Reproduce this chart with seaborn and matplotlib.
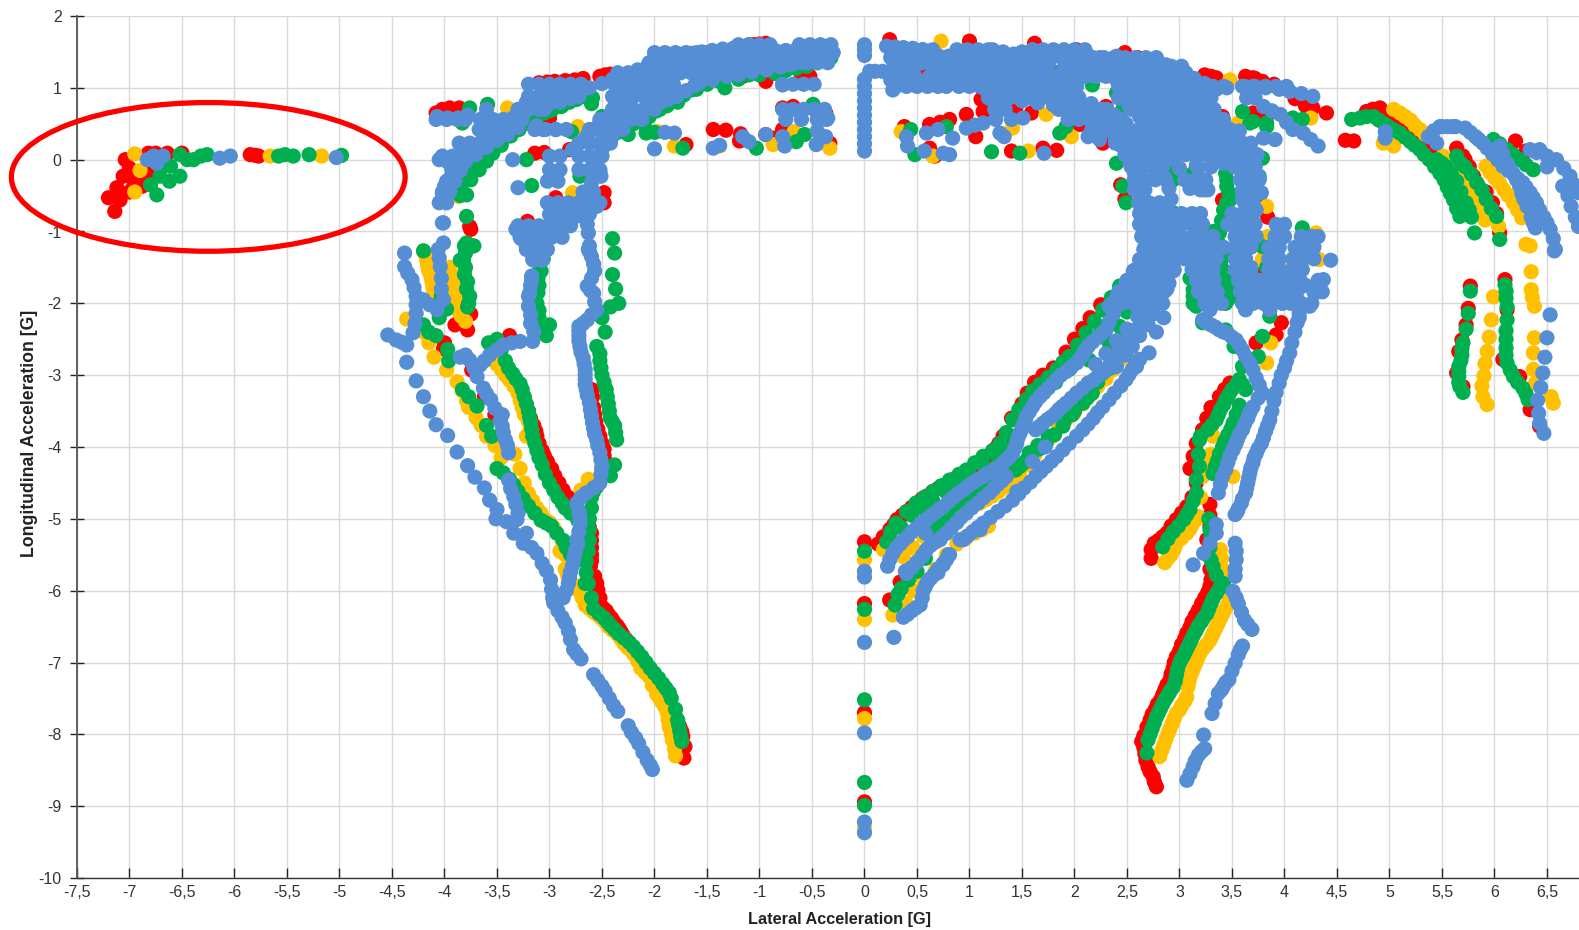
import matplotlib
matplotlib.use("Agg")
import matplotlib.pyplot as plt
import seaborn as sns
import pandas as pd
from matplotlib.patches import Ellipse

# values, (lateral, longitudinal) in G
red_pts = [
    (-7.04,0.0),(-7.0,-0.12),(-7.06,-0.23),(-6.95,-0.22),(-7.12,-0.39),(-7.0,-0.45),(-7.2,-0.53),(-7.14,-0.72),(-7.09,-0.56),(-6.96,-0.37),(-6.88,-0.37),(-6.83,-0.19),(-6.9,-0.2),
    (-6.82,0.09),(-6.75,0.09),(-6.64,0.09),(-6.5,0.09),(-5.85,0.07),(-5.8,0.06),(-5.77,0.05),
    (-4.08,0.65),(-4.02,0.7),(-3.95,0.72),(-3.86,0.72),(-3.1,1.07),(-2.95,1.09),(-2.85,1.1),(-2.76,1.11),(-2.52,1.16),(-2.42,1.19),(-0.94,1.62),(-1.05,1.6),(-0.94,1.09),(-1.16,1.16),(-0.52,1.16),(-0.6,1.14),
    (-0.78,0.72),(-0.68,0.74),(-0.37,0.65),(-1.44,0.42),(-1.32,0.41),(-1.19,0.26),(-1.18,0.36),(-0.94,0.35),(-0.78,0.42),(-0.85,0.3),(-1.7,0.21),(-0.33,0.23),
    (-3.14,0.09),(-3.05,0.1),(-2.81,0.14),(-2.48,-0.46),(-2.48,-0.6),(-3.21,-0.86),(-2.94,-0.53),(-3.76,-0.93),(-3.75,-0.97),(-3.74,-1.2),(-3.59,0.53),(-3.0,0.58),
    (-3.78,-2.37),(-3.75,-2.15),(-4.01,-2.63),(-3.8,-2.73),(-3.74,-2.93),(-3.62,-3.3),(-3.52,-3.55),(-3.44,-2.55),(-3.38,-2.45),
    (-3.42,-2.9),(-3.36,-3.05),(-3.3,-3.2),(-3.24,-3.33),(-3.2,-3.5),(-3.15,-3.7),(-3.12,-3.85),(-3.07,-4.05),(-3.02,-4.2),(-2.95,-4.4),(-2.87,-4.6),(-2.78,-4.8),(-2.7,-4.98),(-2.62,-5.12),(-2.6,-5.3),(-2.6,-5.5),
    (-2.61,-5.66),(-2.57,-5.8),(-2.54,-5.99),(-2.49,-6.24),(-2.44,-6.33),(-2.39,-6.43),(-2.34,-6.52),(-2.3,-6.62),(-2.24,-6.74),(-2.19,-6.87),(-2.03,-7.17),(-1.98,-7.26),(-1.93,-7.36),(-1.88,-7.48),(-1.84,-7.61),(-1.8,-7.75),(-1.76,-7.89),(-1.73,-8.03),(-1.71,-8.17),(-1.72,-8.33),
    (-2.5,-4.3),(-2.47,-4.2),(-2.48,-4.03),(-2.52,-3.85),(-2.56,-3.65),(-2.58,-3.45),(-2.6,-3.2),
    (0.0,-5.32),(0.0,-6.18),(0.0,-7.7),(0.0,-8.94),
    (0.18,-5.25),(0.24,-5.15),(0.31,-5.01),(0.4,-4.9),(0.5,-4.78),(0.6,-4.68),(0.7,-4.58),(0.8,-4.5),(0.9,-4.4),(1.0,-4.32),(1.1,-4.22),(1.2,-4.1),(1.28,-3.95),
    (0.24,-6.13),(0.34,-5.88),(0.42,-5.8),(1.62,-3.1),(1.8,-2.9),(1.92,-2.68),(2.08,-2.35),(2.25,-2.02),(2.44,-0.35),(2.48,-0.55),
    (2.73,-5.55),(2.73,-5.43),(2.8,-5.3),(2.88,-5.2),(2.97,-5.01),(3.07,-4.83),(3.16,-4.5),(3.13,-4.13),(3.22,-3.76),(3.3,-3.45),(3.48,-3.11),(3.29,-4.8),(3.29,-4.95),(3.26,-5.29),
    (2.64,-8.1),(2.67,-8.27),(2.7,-8.45),(2.75,-8.59),(2.78,-8.73),(2.72,-7.8),(2.77,-7.65),(2.82,-7.52),(2.86,-7.38),(2.91,-7.24),(2.94,-7.08),(2.97,-6.92),(3.02,-6.75),(3.07,-6.59),(3.12,-6.43),(3.18,-6.27),(3.24,-6.1),(3.29,-5.94),
    (3.97,-2.27),(3.92,-2.44),(3.73,-2.55),(3.41,-0.56),(3.79,-0.63),(4.08,-1.49),(4.02,-1.72),
    (0.24,1.67),(1.0,1.65),(1.62,1.62),(2.48,1.49),(2.02,1.53),(3.24,1.18),(3.35,1.14),(3.63,1.16),(3.72,1.13),(3.79,1.09),(4.4,0.65),
    (0.38,0.46),(0.62,0.49),(0.72,0.52),(0.81,0.56),(0.97,0.63),(1.13,0.67),(1.44,0.7),(1.59,0.65),(1.86,1.21),(0.62,0.16),(0.67,0.05),(1.06,0.32),(1.4,0.12),(1.7,0.16),(1.83,0.13),(0.59,1.18),(0.87,1.21),(1.11,0.84),
    (2.05,0.49),(2.27,0.23),(2.3,0.74),(3.41,0.6),(3.7,0.65),(3.83,0.6),(4.27,0.72),
    (4.58,0.27),(4.66,0.26),(4.78,0.67),(4.85,0.7),(4.91,0.72),(5.04,0.56),(5.15,0.46),(5.29,0.32),(5.4,0.15),(5.51,-0.05),(5.64,0.16),(5.72,0.0),(5.8,-0.23),(5.86,-0.5),(5.86,-0.74),(5.98,-0.6),(6.05,-1.02),(6.2,0.26),(6.3,0.12),
    (5.77,-1.76),(5.75,-2.07),(5.73,-2.30),(5.69,-2.51),(5.66,-2.67),(5.64,-2.97),(5.7,-3.16),(6.1,-1.67),(6.12,-2.09),(6.08,-2.78),(6.24,-3.02),(6.34,-3.48),(6.43,-3.71),
]
red_more = [
    (-3.39,-2.97),(-3.33,-3.12),(-3.27,-3.27),(-3.22,-3.42),(-3.18,-3.6),(-3.13,-3.78),(-3.1,-3.95),(-3.05,-4.12),(-2.98,-4.3),(-2.91,-4.5),(-2.82,-4.7),(-2.74,-4.9),(-2.66,-5.05),(-2.6,-5.2),(-2.6,-5.4),(-2.6,-5.58),(-2.55,-5.9),(-2.52,-6.1),(-2.46,-6.28),(-2.41,-6.38),(-2.36,-6.48),(-2.32,-6.57),(-2.27,-6.68),(-2.21,-6.8),(-2.15,-6.95),(-2.11,-7.02),(-2.07,-7.1),(-2.0,-7.22),(-1.95,-7.3),(-1.9,-7.42),(-1.86,-7.55),(-1.82,-7.68),(-1.78,-7.82),(-1.74,-7.96),
    (-2.48,-4.12),(-2.5,-3.95),(-2.54,-3.75),(-2.57,-3.55),(-2.59,-3.3),
    (0.13,-5.35),(0.28,-5.08),(0.36,-4.95),(0.45,-4.84),(0.55,-4.72),(0.65,-4.62),(0.75,-4.54),(0.85,-4.45),(0.95,-4.36),(1.05,-4.27),(1.15,-4.16),(1.25,-4.02),(1.32,-3.85),(1.4,-3.6),(1.5,-3.4),(1.55,-3.25),(1.7,-3.0),(2.0,-2.5),(2.15,-2.2),
    (2.66,-8.02),(2.69,-7.9),(2.74,-7.72),(2.79,-7.58),(2.84,-7.45),(2.88,-7.31),(2.92,-7.16),(2.95,-7.0),(3.0,-6.84),(3.05,-6.67),(3.1,-6.51),(3.15,-6.35),(3.21,-6.18),(3.27,-6.02),(3.3,-5.85),(3.29,-5.7),(3.27,-5.5),(3.29,-5.1),(2.66,-8.18),(2.68,-8.36),(2.72,-8.52),(2.76,-8.66),
    (2.76,-5.34),(2.84,-5.25),(2.92,-5.1),(3.02,-4.92),(3.12,-4.7),(3.1,-4.3),(3.16,-3.95),(3.26,-3.6),(3.38,-3.3),(3.43,-3.2),
    (4.84,0.7),(4.98,0.64),(5.1,0.5),(5.22,0.38),(5.35,0.22),(5.45,0.05),(5.7,0.05),(5.76,-0.1),(5.84,-0.35),(5.92,-0.45),(6.02,-0.75),
    (-3.02,1.08),(-2.68,1.13),(-2.47,1.18),(-1.0,1.61),(-1.1,1.6),(2.6,1.42),(3.3,1.16),(3.7,1.14),(3.9,1.05),(4.1,0.85),(4.2,0.75),
    (3.84,-0.8),(3.8,-1.1),(3.76,-1.6),(3.74,-1.9),(4.12,-1.3),(4.1,-1.7),(3.44,-0.75),(-4.0,-2.55),(-3.9,-2.3),(-3.85,-2.25),
]
yellow_pts = [
    (-6.95,0.08),(-6.95,-0.45),(-6.9,-0.15),(-5.66,0.05),(-5.17,0.05),
    (-3.4,0.72),(-1.97,0.39),(-2.05,0.4),(-1.81,0.19),(-1.38,0.19),(-0.87,0.21),(-0.67,0.39),(-0.33,0.16),(-3.87,-0.51),(-3.85,-0.4),(-2.73,0.46),(-2.6,0.86),(-2.78,-0.46),
    (-4.2,-1.27),(-4.17,-1.4),(-4.15,-1.55),(-4.12,-1.7),(-4.1,-1.85),(-3.95,-1.5),(-3.92,-1.7),(-3.9,-1.9),(-3.87,-2.1),(-3.8,-2.25),
    (-4.36,-2.22),(-4.2,-2.4),(-4.15,-2.55),(-4.1,-2.75),(-3.98,-2.93),(-3.88,-3.09),(-3.83,-3.22),(-3.79,-3.36),(-3.77,-3.45),(-3.7,-3.59),(-3.65,-3.7),(-3.6,-3.85),(-3.52,-3.98),(-3.46,-4.15),
    (-3.55,-2.65),(-3.5,-2.85),(-3.42,-3.0),(-3.34,-3.15),(-3.28,-3.35),(-3.24,-3.55),(-3.18,-3.75),
    (-3.2,-4.65),(-3.12,-4.85),(-3.05,-5.0),(-2.96,-5.12),(-2.88,-5.3),(-2.85,-5.5),(-2.8,-5.7),
    (-2.85,-5.7),(-2.82,-5.85),(-2.72,-6.0),(-2.66,-6.2),(-2.58,-6.3),(-2.51,-6.38),(-2.44,-6.5),(-2.36,-6.6),(-2.29,-6.74),(-2.2,-6.88),(-2.13,-7.08),(-2.05,-7.2),(-1.98,-7.44),(-1.93,-7.55),(-1.88,-7.7),(-1.86,-7.9),(-1.83,-8.08),(-1.8,-8.3),
    (-2.7,-4.6),(-2.63,-4.45),
    (0.0,-5.57),(0.0,-6.4),(0.0,-7.78),(0.0,-9.3),
    (0.18,-5.43),(0.37,-5.53),(0.46,-5.4),(0.56,-5.24),(0.66,-5.12),(0.78,-5.02),(0.9,-4.95),(1.0,-4.85),(1.1,-4.78),(1.22,-4.68),(1.35,-4.55),(1.48,-4.4),
    (0.27,-6.34),(0.4,-6.18),(0.46,-6.0),(0.56,-5.85),(0.68,-5.7),(0.78,-5.5),(0.88,-5.35),(1.05,-5.2),(1.18,-5.1),
    (1.55,-4.25),(1.7,-4.0),(1.85,-3.72),(2.0,-3.52),(2.15,-3.28),(2.3,-3.05),(2.44,-2.78),
    (2.86,-5.61),(2.92,-5.5),(2.97,-5.34),(3.07,-5.2),(3.12,-5.08),(3.18,-4.97),
    (2.81,-8.31),(2.85,-8.15),(2.89,-7.99),(2.93,-7.85),(2.97,-7.71),(3.02,-7.6),(3.07,-7.48),(3.08,-7.34),(3.1,-7.2),(3.14,-7.06),(3.18,-6.92),(3.23,-6.8),(3.29,-6.69),(3.33,-6.57),(3.37,-6.45),(3.41,-6.33),(3.45,-6.22),(3.48,-6.1),
    (3.39,-5.43),(3.4,-5.55),(3.42,-5.71),(3.83,-2.83),(3.87,-2.55),(3.54,-3.95),(3.51,-4.41),(3.32,-3.85),(3.3,-4.1),(3.26,-4.25),(3.22,-4.41),(3.2,-4.7),(3.16,-4.97),
    (3.83,-0.65),(3.84,-1.07),(3.8,-1.22),(3.79,-1.39),(4.11,-1.25),(4.05,-1.53),(4.3,-1.02),(4.33,-1.39),(4.28,-1.2),(3.98,-1.75),
    (0.73,1.65),(3.48,1.11),(1.73,0.63),(1.97,0.32),(1.56,0.12),(3.56,0.51),(4.25,0.58),(0.65,0.05),(1.86,1.21),(1.41,0.44),(0.35,0.39),
    (5.1,0.65),(5.2,0.55),(5.29,0.42),(4.94,0.23),(5.04,0.19),(5.51,0.05),(5.6,-0.12),(5.7,-0.3),(5.76,-0.46),(5.85,-0.65),(5.91,-0.84),(6.04,-0.93),(5.92,-0.09),(6.0,-0.25),(6.09,-0.42),(6.18,-0.6),(6.26,-0.81),(6.3,-1.18),(6.34,-1.2),
    (5.99,-1.91),(5.97,-2.23),(5.95,-2.47),(5.93,-2.67),(5.91,-2.84),(5.9,-3.01),(5.88,-3.15),(5.89,-3.3),(5.93,-3.41),
    (6.35,-1.56),(6.35,-1.81),(6.36,-1.92),(6.38,-2.04),(6.38,-2.48),(6.37,-2.69),(6.37,-2.92),(6.39,-3.11),(6.54,-3.3),(6.56,-3.39),
]
yellow_more = [
    (-2.83,-5.78),(-2.77,-5.92),(-2.69,-6.1),(-2.62,-6.25),(-2.54,-6.34),(-2.47,-6.44),(-2.4,-6.55),(-2.32,-6.67),(-2.25,-6.8),(-2.16,-6.98),(-2.09,-7.14),(-2.02,-7.32),(-1.95,-7.5),(-1.9,-7.62),(-1.87,-7.8),(-1.84,-8.0),(-1.81,-8.2),(-2.9,-5.45),(-3.0,-5.05),(-3.08,-4.92),(-3.16,-4.75),(-3.24,-4.5),(-3.28,-4.3),(-3.33,-4.1),(-3.2,-3.65),(-3.22,-3.85),(-3.26,-3.45),(-3.3,-3.25),(-3.38,-3.07),(-3.46,-2.92),(-3.52,-2.75),
    (1.62,-4.12),(1.78,-3.86),(1.92,-3.62),(2.08,-3.4),(2.22,-3.16),(2.37,-2.92),(1.42,-4.48),(1.28,-4.62),(1.16,-4.73),(1.04,-4.82),(0.84,-4.98),(0.72,-5.07),(0.96,-5.28),(1.12,-5.15),
    (2.83,-8.23),(2.87,-8.07),(2.91,-7.92),(2.95,-7.78),(3.0,-7.66),(3.05,-7.54),(3.09,-7.27),(3.12,-7.13),(3.16,-6.99),(3.2,-6.86),(3.26,-6.75),(3.31,-6.63),(3.35,-6.51),(3.39,-6.39),(3.43,-6.27),(3.47,-6.16),(2.89,-5.55),(2.95,-5.42),(3.02,-5.27),(3.1,-5.14),(3.15,-5.02),
    (5.04,0.7),(5.15,0.6),(5.24,0.48),(5.34,0.35),(5.56,-0.02),(5.65,-0.2),(5.73,-0.38),(5.81,-0.55),(5.88,-0.75),(5.96,-0.18),(6.05,-0.33),(6.13,-0.5),(6.22,-0.7),
    (-4.18,-1.33),(-4.16,-1.48),(-4.13,-1.62),(-4.11,-1.78),(-3.93,-1.6),(-3.91,-1.8),(-3.88,-2.0),(-3.84,-2.18),
]
green_pts = [
    (-6.74,-0.49),(-6.8,-0.35),(-6.71,-0.23),(-6.62,-0.3),(-6.52,-0.23),(-6.61,-0.09),(-6.52,0.07),(-6.45,0.0),(-6.39,0.0),(-6.32,0.05),(-6.26,0.07),(-6.7,-0.1),
    (-5.58,0.05),(-5.52,0.07),(-5.44,0.05),(-5.29,0.07),(-4.98,0.06),
    (-3.76,0.72),(-3.59,0.77),(-3.83,0.51),(-2.59,0.86),(-1.94,1.23),(-1.33,1.0),(-2.79,0.39),(-2.08,0.37),(-2.0,0.38),(-1.73,0.16),(-1.03,0.16),(-0.57,0.35),(-0.65,0.25),(-0.49,0.77),(-3.17,-0.36),(-3.22,0.0),(-2.71,-0.23),(-3.79,-0.79),
    (-3.85,-0.5),(-3.84,-0.35),(-3.8,-0.2),(-3.72,-0.05),(-3.64,0.05),(-3.55,0.17),(-3.45,0.28),(-3.35,0.38),(-3.24,0.52),(-3.12,0.6),(-3.0,0.68),(-2.88,0.75),(-2.75,0.84),
    (-2.6,0.78),(-2.5,0.6),(-2.38,0.45),(-2.25,0.35),(-2.1,0.5),(-1.95,0.7),(-1.78,0.8),(-1.6,0.98),(-1.4,1.1),(-1.1,1.18),(-0.85,1.2),(-0.55,1.3),(-0.32,1.42),
    (-3.79,-1.16),(-3.8,-1.3),(-3.8,-1.5),(-3.78,-1.7),(-3.76,-1.9),(-3.78,-2.05),(-3.85,-1.4),(-3.72,-1.2),
    (-4.2,-1.27),(-4.03,-1.9),(-3.98,-2.08),(-4.05,-2.2),(-4.15,-2.4),(-4.2,-2.3),(-4.08,-2.45),(-3.97,-2.64),(-3.96,-2.8),(-3.83,-3.2),(-3.77,-3.3),(-3.69,-3.43),(-3.6,-3.7),(-3.55,-3.85),
    (-3.5,-2.5),(-3.58,-2.55),(-3.42,-2.8),(-3.35,-2.98),(-3.28,-3.12),(-3.24,-3.3),(-3.2,-3.5),(-3.18,-3.65),(-3.16,-3.85),(-3.12,-4.05),(-3.07,-4.25),(-3.0,-4.5),(-2.92,-4.7),(-2.85,-4.85),(-2.73,-5.02),(-2.68,-5.2),
    (-3.5,-4.3),(-3.38,-4.45),(-3.3,-4.62),(-3.2,-4.82),(-3.08,-5.02),(-2.98,-5.1),(-2.87,-5.3),(-2.8,-5.5),
    (-3.05,-2.4),(-3.1,-2.2),(-3.12,-2.0),(-3.1,-1.75),(-3.08,-1.55),(-3.06,-1.38),(-3.12,-1.6),
    (-2.4,-1.1),(-2.38,-1.3),(-2.4,-1.6),(-2.37,-1.8),(-2.34,-2.0),(-2.42,-2.05),(-2.5,-2.2),(-2.47,-2.4),
    (-2.55,-2.6),(-2.52,-2.8),(-2.5,-3.0),(-2.46,-3.2),(-2.44,-3.4),(-2.42,-3.6),(-2.38,-3.7),(-2.36,-3.9),
    (-2.38,-4.25),(-2.42,-4.4),(-2.55,-4.55),(-2.6,-4.7),(-2.62,-5.0),(-2.62,-5.3),(-2.65,-5.6),(-2.66,-5.9),
    (-2.63,-5.9),(-2.6,-6.1),(-2.58,-6.25),(-2.48,-6.38),(-2.42,-6.48),(-2.34,-6.6),(-2.24,-6.72),(-2.16,-6.85),(-2.08,-7.0),(-2.0,-7.15),(-1.92,-7.3),(-1.86,-7.42),(-1.78,-7.8),(-1.76,-7.95),(-1.74,-8.1),
    (0.0,-5.45),(0.0,-6.26),(0.0,-7.52),(0.0,-8.67),(0.0,-8.99),
    (0.21,-5.32),(0.25,-5.18),(0.3,-5.06),(0.4,-4.9),(0.49,-4.78),(0.57,-4.7),(0.65,-4.62),(0.73,-4.54),(0.81,-4.46),(0.9,-4.38),(0.97,-4.32),(1.05,-4.22),(1.13,-4.13),(1.22,-4.05),(1.29,-3.95),(1.35,-3.8),(1.41,-3.62),(1.47,-3.48),(1.54,-3.34),(1.6,-3.22),(1.67,-3.13),(1.75,-3.03),(1.83,-2.92),(1.89,-2.82),(1.95,-2.74),(2.03,-2.58),(2.11,-2.41),(2.19,-2.25),(2.27,-2.09),(2.35,-1.92),(2.43,-1.76),
    (0.29,-6.2),(0.32,-6.05),(0.35,-5.97),(0.42,-5.85),(0.5,-5.73),(0.58,-5.55),(0.65,-5.15),(0.75,-5.0),(0.87,-4.83),(1.0,-4.72),(1.12,-4.6),(1.28,-4.45),(1.44,-4.32),(1.52,-4.22),(1.59,-4.11),(1.66,-4.03),(1.73,-3.95),(1.81,-3.83),(1.89,-3.71),(1.98,-3.55),(2.08,-3.39),(2.17,-3.25),(2.22,-3.1),(2.27,-2.97),(2.38,-2.83),(2.49,-2.69),(2.46,-2.5),(2.43,-2.32),(2.5,-2.12),(2.56,-1.95),
    (2.46,-0.37),(2.49,-0.6),(2.4,-0.05),
    (2.69,-8.26),(2.7,-8.08),(2.74,-7.92),(2.78,-7.76),(2.82,-7.64),(2.86,-7.52),(2.9,-7.43),(2.94,-7.34),(2.97,-7.18),(3.0,-7.01),(3.04,-6.9),(3.08,-6.78),(3.12,-6.66),(3.16,-6.55),(3.21,-6.43),(3.26,-6.32),(3.3,-6.18),(3.35,-6.04),(3.42,-5.9),(3.35,-5.78),(3.32,-5.66),(3.3,-5.57),(3.29,-5.15),(3.28,-5.0),
    (2.84,-5.39),(2.94,-5.18),(3.04,-5.01),(3.1,-4.87),(3.16,-4.64),(3.19,-4.27),(3.16,-4.45),(3.19,-3.9),(3.27,-3.76),(3.35,-3.62),(3.39,-3.48),(3.44,-3.34),(3.5,-3.2),(3.57,-3.06),(3.63,-3.2),(3.57,-3.42),(3.51,-3.67),(3.46,-3.83),(3.41,-4.0),(3.36,-4.2),(3.32,-4.37),
    (3.44,-2.37),(3.52,-2.6),(3.6,-2.88),(3.22,-2.27),(3.13,-1.9),(3.75,-2.74),(3.79,-2.46),(3.86,-2.18),
    (3.45,-0.37),(3.42,-0.7),(3.38,-1.02),(3.42,-1.35),(3.44,-1.67),(3.44,-2.0),(3.38,-1.8),(3.5,-1.9),(2.94,-0.74),(2.96,-0.95),(3.13,-1.81),(3.16,-2.04),(3.1,-1.65),(4.17,-0.95),(3.79,-1.21),(3.83,-1.5),
    (3.16,0.91),(3.67,0.51),(3.83,0.51),(4.17,0.56),(4.08,0.58),(3.79,0.02),(1.86,0.37),(1.92,0.46),(1.21,0.11),(1.48,0.09),(0.48,0.07),(0.44,0.42),(0.78,0.46),(2.4,0.93),(2.46,0.7),(3.0,0.46),(3.22,0.14),(2.9,-0.19),(2.94,-0.28),(3.13,-0.19),(3.44,-0.19),(3.48,-0.56),(0.33,1.35),(1.54,1.35),(1.79,1.23),(2.17,1.04),(3.6,0.67),(3.7,0.53),(3.83,0.46),
    (4.64,0.56),(4.72,0.58),(4.85,0.6),(4.95,0.5),(5.02,0.43),(5.1,0.37),(5.2,0.25),(5.29,0.14),(5.38,0.0),(5.48,-0.19),(5.55,-0.38),(5.61,-0.56),(5.67,-0.79),
    (5.45,0.0),(5.54,-0.1),(5.64,-0.3),(5.73,-0.6),(5.78,-0.8),(5.81,-1.02),
    (5.64,0.05),(5.72,-0.1),(5.83,-0.32),(5.92,-0.55),(6.02,-0.79),(6.05,-1.11),
    (5.99,0.28),(6.12,0.14),(6.24,0.0),(6.37,-0.14),
    (5.77,-1.83),(5.75,-2.14),(5.73,-2.36),(5.7,-2.55),(5.69,-2.72),(5.66,-2.88),(5.66,-3.02),(5.67,-3.16),(5.7,-3.24),
    (6.1,-1.74),(6.11,-1.93),(6.12,-2.23),(6.11,-2.38),(6.11,-2.62),(6.12,-2.83),(6.18,-3.02),(6.27,-3.18),(6.32,-3.34),
]
green_more = [
    (-3.79,-0.49),(-3.75,-0.28),(-3.67,-0.14),(-3.6,-0.02),(-3.54,0.09),(-3.46,0.2),(-3.37,0.33),(-3.29,0.42),(-3.21,0.51),(-3.13,0.58),(-3.05,0.65),(-2.97,0.7),(-2.89,0.74),(-2.81,0.8),(-2.74,0.84),(-2.67,0.88),(-2.35,0.38),(-2.28,0.42),(-2.2,0.5),(-2.12,0.55),(-2.05,0.6),(-1.98,0.68),(-1.88,0.75),(-1.8,0.84),(-1.72,0.9),(-1.65,0.97),(-1.5,1.05),(-1.35,1.08),(-1.2,1.12),(-1.0,1.18),(-0.75,1.24),(-0.65,1.27),(-0.45,1.35),(-0.38,1.38),
    (-3.81,-1.2),(-3.82,-1.4),(-3.81,-1.6),(-3.79,-1.8),(-3.77,-2.0),(-3.1,-1.45),(-3.11,-1.65),(-3.11,-1.85),(-3.1,-2.1),(-3.08,-2.3),(-3.03,-2.45),(-3.0,-2.3),
    (-3.46,-2.65),(-3.39,-2.9),(-3.32,-3.05),(-3.26,-3.2),(-3.22,-3.4),(-3.19,-3.58),(-3.17,-3.75),(-3.14,-3.95),(-3.1,-4.15),(-3.04,-4.38),(-2.96,-4.6),(-2.88,-4.78),(-2.8,-4.92),(-2.7,-5.1),(-2.65,-5.3),(-2.66,-5.5),
    (-3.44,-4.36),(-3.34,-4.53),(-3.25,-4.72),(-3.14,-4.92),(-3.03,-5.06),(-2.93,-5.2),(-2.84,-5.4),(-2.76,-5.6),
    (-2.52,-2.7),(-2.51,-2.9),(-2.48,-3.1),(-2.45,-3.3),(-2.43,-3.5),(-2.4,-3.65),(-2.37,-3.8),(-2.58,-4.62),(-2.6,-4.85),(-2.62,-5.15),(-2.63,-5.45),(-2.65,-5.75),
    (-2.53,-6.32),(-2.45,-6.43),(-2.38,-6.54),(-2.29,-6.66),(-2.2,-6.78),(-2.12,-6.92),(-2.04,-7.08),(-1.96,-7.22),(-1.89,-7.36),(-1.84,-7.5),(-1.8,-7.65),(-1.77,-7.87),(-1.75,-8.03),
    (0.7,-5.08),(0.81,-4.9),(0.93,-4.78),(1.06,-4.66),(1.2,-4.52),(1.36,-4.38),(1.48,-4.27),(1.55,-4.17),(2.34,-2.9),(2.12,-3.32),
    (2.72,-8.0),(2.76,-7.84),(2.8,-7.7),(2.84,-7.58),(2.88,-7.48),(2.92,-7.38),(2.96,-7.26),(2.98,-7.1),(3.02,-6.95),(3.06,-6.84),(3.1,-6.72),(3.14,-6.6),(3.18,-6.49),(3.23,-6.38),(3.28,-6.25),(3.32,-6.11),(3.38,-5.97),
    (3.29,-5.4),(3.3,-5.25),(2.89,-5.28),(2.99,-5.1),(3.07,-4.94),(3.13,-4.75),(3.18,-4.1),(3.2,-3.85),(3.31,-3.69),(3.37,-3.55),(3.42,-3.41),(3.47,-3.27),(3.54,-3.13),(3.6,-3.13),(3.54,-3.55),(3.49,-3.75),(3.43,-3.92),(3.38,-4.1),(3.34,-4.28),
    (4.78,0.6),(4.9,0.55),(4.98,0.47),(5.06,0.4),(5.15,0.31),(5.24,0.2),(5.33,0.07),(5.43,-0.1),(5.52,-0.28),(5.58,-0.47),(5.64,-0.68),(5.5,-0.05),(5.59,-0.2),(5.68,-0.45),(5.76,-0.7),(5.68,-0.05),(5.78,-0.2),(5.88,-0.42),(5.97,-0.68),(6.05,0.22),(6.18,0.07),(6.3,-0.07),
    (5.69,-2.63),(5.68,-2.8),(5.66,-2.95),(5.66,-3.1),(6.11,-1.83),(6.12,-2.05),(6.11,-2.5),(6.11,-2.72),(6.15,-2.93),(6.22,-3.1),(6.3,-3.26),
    (3.45,-0.28),(3.47,-0.46),(3.45,-0.6),(3.4,-0.85),(3.38,-1.18),(3.4,-1.5),(3.42,-1.8),(3.46,-1.95),(3.38,-1.95),(3.5,-1.75),(3.32,-1.0),(3.4,-1.3),(3.15,-1.92),(3.13,-2.0),
    (0.25,-5.3),(0.35,-5.12),(0.45,-4.95),(0.55,-4.85),(0.65,-4.75),(0.78,-4.63),(0.9,-4.52),(1.02,-4.42),(1.15,-4.28),(1.27,-4.15),(1.35,-4.02),(1.42,-3.85),(1.5,-3.6),(1.58,-3.45),(1.7,-3.25),(1.82,-3.1),(1.95,-2.92),(2.05,-2.75),(2.15,-2.55),(2.25,-2.35),(2.35,-2.15),(2.47,-1.95),(2.53,-1.75),
    (1.57,-4.08),(1.65,-3.98),(1.75,-3.85),(1.9,-3.65),(2.0,-3.5),(2.14,-2.79),(2.33,-2.55),(2.49,-2.46),
]
blue_pts = [
    (-6.83,0.0),(-6.77,0.05),(-6.68,0.05),(-6.74,-0.05),(-6.14,0.02),(-6.04,0.05),(-5.03,0.03),
    (-4.07,0.6),(-3.97,0.58),(-3.87,0.58),(-3.78,0.62),(-3.66,0.56),(-3.6,0.7),
    (-4.03,-0.57),(-4.02,-0.47),(-4.0,-0.37),(-3.95,-0.27),(-3.92,-0.14),(-3.97,-0.03),(-4.05,0.0),(-3.88,0.03),(-3.8,0.12),(-3.72,0.2),(-3.63,0.3),(-3.55,0.38),(-3.45,0.47),(-3.35,0.58),(-3.27,0.68),(-3.22,0.8),(-3.12,0.85),(-3.02,0.88),(-2.92,0.9),(-2.82,0.92),(-2.72,0.98),(-2.62,1.0),(-2.5,1.06),(-2.4,1.12),(-2.28,1.18),(-2.16,1.25),(-2.06,1.32),(-1.95,1.4),(-1.85,1.44),(-1.75,1.46),(-1.65,1.48),(-1.55,1.5),(-1.45,1.52),(-1.35,1.54),(-1.25,1.55),(-1.15,1.55),(-1.05,1.56),(-0.95,1.55),(-0.85,1.52),(-0.75,1.52),(-0.65,1.53),(-0.55,1.54),(-0.45,1.56),(-0.35,1.58),
    (-2.52,-0.18),(-2.55,0.04),(-2.5,0.14),(-2.45,0.24),(-2.4,0.33),(-2.36,0.42),(-2.31,0.49),(-2.26,0.56),(-2.2,0.6),(-2.14,0.65),(-2.05,0.72),(-1.95,0.79),(-1.87,0.84),(-1.79,0.88),(-1.7,0.96),(-1.62,1.03),(-1.57,1.07),(-1.45,1.11),(-1.31,1.16),(-1.2,1.18),(-1.07,1.22),(-0.93,1.25),(-0.8,1.29),(-0.7,1.32),(-0.61,1.35),(-0.5,1.4),(-0.4,1.44),(-0.30,1.49),
    (-2.0,0.15),(-1.81,0.37),(-1.9,0.38),(-1.44,0.16),(-1.38,0.2),(-1.16,0.32),(-1.1,0.25),(-0.94,0.35),(-0.78,0.32),(-0.76,0.19),(-0.46,0.21),(-0.37,0.32),(-0.35,0.58),(-0.45,0.4),(-0.78,1.04),
    (-3.35,0.0),(-3.3,-0.39),(-3.06,0.42),(-2.94,0.42),(-3.12,0.47),
    (-3.17,-1.62),(-3.18,-1.75),(-3.2,-2.04),(-3.2,-1.9),(-4.02,-0.88),(-4.01,-0.88),
    (-4.38,-1.3),(-4.38,-1.49),(-4.35,-1.58),(-4.31,-1.67),(-4.29,-1.78),(-4.27,-1.9),(-4.27,-2.02),(-4.27,-2.14),(-4.28,-2.28),(-4.3,-2.41),(-4.36,-2.58),(-4.41,-2.54),(-4.54,-2.44),(-4.46,-2.51),
    (-4.2,-1.95),(-4.14,-2.02),(-4.07,-2.09),(-4.01,-1.95),(-4.03,-1.8),(-4.03,-1.65),(-4.04,-1.49),(-4.05,-1.37),(-4.06,-1.25),(-4.01,-1.16),
    (-4.36,-2.82),(-4.27,-3.08),(-4.2,-3.3),(-4.14,-3.5),(-4.08,-3.69),(-3.97,-3.84),(-3.88,-4.07),(-3.78,-4.26),(-3.71,-4.42),(-3.62,-4.57),(-3.57,-4.74),(-3.5,-4.87),(-3.51,-5.0),(-3.41,-5.04),(-3.31,-5.01),(-3.34,-5.2),(-3.25,-5.34),(-3.22,-5.2),(-3.17,-5.4),(-3.12,-5.48),
    (-3.39,-4.46),(-3.34,-4.69),(-3.3,-4.92),(-3.37,-4.58),(-3.32,-4.8),
    (-3.8,-2.72),(-3.85,-2.75),(-3.76,-2.79),(-3.72,-2.9),(-3.69,-3.02),(-3.63,-3.18),(-3.6,-3.26),(-3.56,-3.34),(-3.52,-3.46),(-3.45,-3.55),(-3.45,-3.71),(-3.42,-3.9),(-3.39,-4.08),(-3.47,-3.63),(-3.44,-3.8),(-3.4,-3.98),
    (-3.66,-2.86),(-3.62,-2.8),(-3.57,-2.72),(-3.5,-2.65),(-3.44,-2.58),(-3.36,-2.55),(-3.28,-2.53),(-3.16,-2.53),(-3.15,-2.39),(-3.18,-2.28),(-3.18,-2.16),
    (-3.19,-1.86),(-3.17,-1.67),
    (-2.65,-0.74),(-2.64,-0.9),(-2.63,-1.02),(-2.62,-1.2),(-2.6,-1.35),(-2.57,-1.55),(-2.64,-1.76),(-2.58,-1.86),(-2.57,-1.98),(-2.55,-2.09),(-2.64,-2.23),(-2.72,-2.32),(-2.72,-2.45),(-2.71,-2.6),(-2.68,-2.76),(-2.66,-2.92),(-2.66,-3.06),(-2.65,-3.2),(-2.62,-3.38),(-2.6,-3.57),(-2.58,-3.74),(-2.55,-3.9),(-2.52,-4.08),(-2.5,-4.27),(-2.52,-4.5),(-2.65,-4.64),(-2.74,-4.78),(-2.71,-5.06),(-2.72,-5.18),(-2.74,-5.29),(-2.75,-5.43),(-2.77,-5.57),(-2.8,-5.74),(-2.82,-5.9),(-2.87,-6.1),
    (-2.62,-1.28),(-2.58,-1.45),(-2.6,-1.65),(-2.61,-1.82),(-2.6,-2.16),(-2.68,-2.28),(-2.72,-2.38),(-2.72,-2.52),(-2.7,-2.68),(-2.67,-2.84),(-2.66,-2.99),(-2.66,-3.13),(-2.64,-3.28),(-2.61,-3.48),(-2.59,-3.66),(-2.57,-3.82),(-2.54,-3.98),(-2.51,-4.18),(-2.51,-4.38),(-2.58,-4.57),(-2.7,-4.7),(-2.72,-4.9),(-2.71,-4.98),(-2.73,-5.35),(-2.76,-5.5),(-2.78,-5.65),(-2.81,-5.82),(-2.84,-6.0),
    (-3.07,-5.62),(-3.03,-5.72),(-2.99,-5.85),(-2.98,-5.98),(-2.97,-6.1),(-2.96,-6.17),(-2.92,-6.28),(-2.88,-6.37),(-2.85,-6.45),(-2.82,-6.56),(-2.8,-6.68),(-2.77,-6.82),(-2.74,-6.88),(-2.7,-6.95),
    (-2.58,-7.17),(-2.54,-7.25),(-2.5,-7.33),(-2.47,-7.4),(-2.43,-7.5),(-2.39,-7.6),(-2.35,-7.68),
    (-2.25,-7.88),(-2.22,-7.97),(-2.18,-8.05),(-2.15,-8.13),(-2.11,-8.25),(-2.07,-8.36),(-2.04,-8.43),(-2.02,-8.49),
    (0.0,1.6),(0.0,1.53),(0.0,1.45),(0.0,1.12),(0.0,1.02),(0.0,0.92),(0.0,0.82),(0.0,0.72),(0.0,0.62),(0.0,0.52),(0.0,0.42),(0.0,0.32),(0.0,0.22),(0.0,0.12),
    (0.05,1.23),(0.17,1.23),(0.1,1.23),
    (0.0,-5.73),(0.0,-5.81),(0.0,-6.72),(0.0,-7.98),(0.0,-9.22),(0.0,-9.37),
    (0.4,0.32),(0.41,0.19),(0.59,0.37),(0.7,0.42),(0.57,0.12),(0.75,0.09),(0.81,0.07),(1.71,0.09),(0.84,0.3),(0.97,0.44),(1.05,0.48),(1.13,0.51),(1.29,0.37),(1.33,0.32),(1.51,0.58),(1.4,0.56),(1.25,0.56),(2.13,0.32),(2.24,0.28),
    (3.8,0.74),(3.88,0.68),(3.96,0.63),(4.02,0.52),(4.08,0.42),(4.18,0.37),(4.25,0.28),(4.32,0.19),(3.8,0.3),(3.91,0.28),
    (4.16,0.92),(4.27,0.88),(4.05,0.95),
    (0.22,-5.66),(0.27,-5.48),(0.34,-5.35),(0.41,-5.25),(0.5,-5.12),(0.59,-5.01),(0.67,-4.92),(0.75,-4.83),(0.85,-4.7),(0.94,-4.6),(1.03,-4.5),(1.13,-4.41),(1.21,-4.34),(1.29,-4.27),(1.35,-4.18),(1.41,-4.09),(1.45,-3.95),(1.48,-3.81),(1.51,-3.7),(1.54,-3.58),(1.6,-3.44),(1.67,-3.3),(1.75,-3.18),(1.83,-3.06),(1.92,-2.95),(2.02,-2.83),(2.08,-2.72),(2.13,-2.6),(2.22,-2.48),(2.3,-2.37),(2.37,-2.15),(2.44,-1.9),(2.5,-1.8),(2.56,-1.72),
    (0.4,-5.76),(0.5,-5.6),(0.59,-5.43),(0.68,-5.32),(0.78,-5.2),(0.88,-5.05),(0.97,-4.92),(1.08,-4.78),(1.19,-4.64),(1.27,-4.52),(1.35,-4.41),(1.63,-3.76),(1.7,-3.67),(1.78,-3.58),(1.85,-3.48),(1.92,-3.39),(2.02,-3.25),(2.13,-3.11),(2.22,-3.02),(2.3,-2.93),(2.38,-2.77),(2.46,-2.6),(2.55,-2.43),(2.65,-2.27),(2.73,-2.1),(2.81,-1.95),(2.86,-1.83),(2.9,-1.72),
    (0.94,-5.29),(1.03,-5.18),(1.13,-5.06),(1.27,-4.9),(1.41,-4.74),(1.52,-4.57),(1.63,-4.41),(1.73,-4.27),(1.83,-4.13),(1.95,-3.95),(2.08,-3.76),(2.18,-3.6),(2.27,-3.44),(2.38,-3.25),(2.49,-3.06),(2.55,-2.92),(2.62,-2.78),(2.71,-2.69),(2.59,-2.88),(2.78,-2.4),(2.85,-2.2),(2.75,-2.15),
    (0.81,-5.5),(0.75,-5.62),(0.7,-5.75),
    (0.37,-6.37),(0.45,-6.28),(0.53,-6.2),(0.56,-6.0),(0.6,-5.88),(0.66,-5.78),(0.75,-5.64),(0.8,-5.5),
    (0.28,-6.65),(0.39,-5.73),(0.56,-5.5),(0.72,-5.29),(0.91,-5.29),(1.1,-5.15),
    (0.58,-5.2),(1.45,-4.62),(1.6,-4.2),(1.72,-4.0),
    (3.07,-8.64),(3.13,-8.45),(3.18,-8.29),(3.24,-8.2),(3.23,-8.01),(3.31,-7.71),(3.37,-7.43),(3.42,-7.33),(3.47,-7.24),(3.5,-7.12),(3.53,-7.01),(3.6,-6.77),
    (3.69,-6.54),(3.62,-6.41),(3.59,-6.3),(3.56,-6.18),(3.51,-6.01),(3.53,-5.8),(3.54,-5.57),(3.53,-5.34),(3.53,-4.94),(3.59,-4.78),
    (3.13,-5.64),(3.23,-5.48),(3.29,-5.34),(3.35,-5.2),(3.35,-5.08),
    (3.63,-4.64),(3.65,-4.5),(3.67,-4.36),(3.7,-4.22),(3.73,-4.09),(3.78,-3.95),(3.82,-3.78),(3.86,-3.62),(3.9,-3.36),(3.95,-3.11),(4.0,-2.9),(4.05,-2.69),(4.1,-2.4),(4.14,-2.14),
    (3.22,-2.23),(3.3,-2.3),(3.38,-2.37),(3.46,-2.42),(3.54,-2.51),(3.6,-2.65),(3.67,-2.83),(3.73,-3.04),(3.79,-3.25),(3.7,-3.44),(3.65,-3.6),(3.6,-3.76),(3.55,-3.9),(3.51,-4.04),(3.46,-4.22),(3.41,-4.41),(3.37,-4.64),
    (4.96,0.39),(4.96,0.3),(5.48,0.46),(5.55,0.46),(5.63,0.46),(5.72,0.44),(5.82,0.32),(5.89,0.23),(5.98,0.08),(6.08,-0.09),(6.18,-0.2),(6.27,-0.32),(6.34,-0.46),(6.4,-0.6),(6.47,-0.8),(6.53,-0.97),(6.58,-1.25),
    (5.45,0.23),(5.37,0.32),(5.42,0.4),
    (6.05,0.19),(6.12,-0.05),(6.21,-0.28),(6.26,-0.47),(6.31,-0.65),(6.39,-0.95),
    (6.34,0.14),(6.43,0.14),(6.59,0.0),(6.72,-0.23),(6.8,-0.46),(6.5,-0.1),(6.65,-0.37),(6.73,-0.65),(6.8,-0.93),
    (6.57,-1.27),(6.53,-2.16),(6.5,-2.48),(6.48,-2.75),(6.46,-2.97),(6.44,-3.17),(6.41,-3.35),(6.42,-3.53),(6.43,-3.67),(6.47,-3.81),
]
blue_more = [
    (0.24,-5.57),(0.3,-5.41),(0.37,-5.3),(0.45,-5.18),(0.54,-5.06),(0.63,-4.96),(0.71,-4.87),(0.8,-4.76),(0.89,-4.65),(0.98,-4.55),(1.08,-4.45),(1.17,-4.37),(1.25,-4.3),(1.32,-4.22),(1.38,-4.14),(1.43,-4.02),(1.46,-3.88),(1.5,-3.75),(1.53,-3.64),(1.57,-3.51),(1.63,-3.37),(1.71,-3.24),(1.79,-3.12),(1.87,-3.0),(1.97,-2.89),(2.05,-2.77),(2.1,-2.66),(2.17,-2.54),(2.26,-2.42),(2.33,-2.26),(2.4,-2.03),
    (0.45,-5.68),(0.55,-5.52),(0.63,-5.37),(0.73,-5.26),(0.83,-5.12),(0.92,-4.98),(1.02,-4.85),(1.13,-4.71),(1.23,-4.58),(1.31,-4.47),(1.66,-3.72),(1.74,-3.62),(1.82,-3.53),(1.88,-3.44),(1.97,-3.32),(2.08,-3.18),(2.18,-3.07),(2.26,-2.98),(2.34,-2.85),(2.42,-2.68),(2.5,-2.52),(2.6,-2.35),(2.69,-2.18),(2.77,-2.02),
    (0.98,-5.24),(1.08,-5.12),(1.2,-4.98),(1.34,-4.82),(1.47,-4.65),(1.58,-4.49),(1.68,-4.34),(1.78,-4.2),(1.89,-4.04),(2.02,-3.85),(2.13,-3.68),(2.22,-3.52),(2.33,-3.34),(2.44,-3.15),(2.52,-2.99),(2.58,-2.85),
    (0.41,-6.33),(0.49,-6.24),(0.55,-6.1),(0.58,-5.94),(0.63,-5.83),(0.7,-5.7),(0.78,-5.57),
    (3.15,-8.37),(3.21,-8.24),(3.1,-8.55),(3.34,-7.57),(3.4,-7.38),(3.44,-7.28),(3.56,-6.89),(3.58,-6.82),(3.65,-6.47),(3.54,-6.1),(3.53,-5.7),(3.54,-5.45),
    (3.6,-4.72),(3.56,-4.86),(3.55,-4.9),(3.64,-4.57),(3.66,-4.43),(3.68,-4.29),(3.71,-4.15),(3.75,-4.02),(3.8,-3.87),(3.84,-3.7),(3.88,-3.5),(3.92,-3.24),(3.97,-3.0),(4.02,-2.8),(4.07,-2.55),(4.12,-2.27),
    (3.26,-2.27),(3.34,-2.33),(3.42,-2.4),(3.5,-2.47),(3.57,-2.58),(3.63,-2.74),(3.7,-2.93),(3.76,-3.14),(3.75,-3.32),(3.67,-3.52),(3.62,-3.68),(3.57,-3.83),(3.53,-3.97),(3.48,-4.13),(3.44,-4.32),(3.39,-4.52),
    (5.5,0.46),(5.6,0.46),(5.77,0.38),(5.85,0.28),(5.93,0.16),(6.03,0.0),(6.13,-0.15),(6.22,-0.26),(6.3,-0.38),(6.37,-0.53),(6.43,-0.7),(6.5,-0.88),(6.56,-1.1),
    (6.08,0.08),(6.16,-0.15),(6.24,-0.37),(6.28,-0.55),(6.35,-0.8),(6.37,-0.88),(6.66,-0.12),(6.76,-0.35),(6.7,-0.5),(6.77,-0.8),(6.4,0.1),(6.5,0.05),
]
# arcs through the thick bands, they round off the row fill below
blue_arcs = [
    (-2.78,0.14),(-2.72,0.23),(-2.65,0.32),(-2.58,0.42),(-2.52,0.51),(-2.45,0.58),(-2.39,0.65),(-2.32,0.75),(-2.26,0.84),(-2.2,0.93),(-2.14,1.02),(-2.05,1.09),(-1.95,1.16),(-1.85,1.23),(-1.76,1.3),(-1.65,1.35),(-1.5,1.39),(-1.35,1.41),(-1.19,1.42),(-1.03,1.43),(-0.87,1.44),(-0.7,1.46),(-0.55,1.49),
    (-3.2,0.75),(-3.1,0.78),(-3.0,0.78),(-2.9,0.8),(-2.8,0.85),(-3.3,0.45),(-3.4,0.35),(-3.5,0.27),(-3.6,0.17),(-3.7,0.07),(-3.8,-0.03),(-3.85,-0.15),
    (-3.32,-0.97),(-3.27,-1.1),(-3.22,-1.21),(-3.16,-1.39),(-3.06,-1.3),(-2.95,-0.75),(-2.75,-0.79),(-2.65,-0.46),(-2.55,-0.65),(-2.6,-0.32),(-2.51,-0.23),(-2.7,-0.6),(-3.15,-1.15),
    (0.21,1.58),(0.29,1.57),(0.37,1.56),(0.46,1.55),(0.56,1.53),(0.63,1.48),(0.71,1.44),(0.8,1.44),(0.9,1.44),(0.98,1.46),(1.06,1.49),(1.14,1.51),(1.22,1.53),(1.32,1.5),(1.42,1.47),(1.5,1.5),(1.6,1.53),(1.7,1.52),(1.8,1.5),(1.92,1.49),(2.02,1.47),(2.13,1.45),(2.24,1.42),(2.35,1.4),(2.46,1.38),(2.56,1.37),(2.66,1.35),(2.76,1.34),(2.87,1.32),(2.97,1.27),(3.06,1.21),(3.14,1.13),(3.24,1.06),(3.35,0.98),(3.45,1.0),(3.6,1.02),(3.7,1.02),(3.82,1.0),(3.95,0.98),
    (0.27,0.97),(0.25,1.11),(0.43,1.11),(0.59,1.07),(0.75,1.11),(0.85,1.11),(0.95,1.08),(1.05,1.05),(1.15,0.98),(1.22,0.93),(1.35,0.88),(1.5,0.82),(1.65,0.79),(1.8,0.76),(1.95,0.75),(2.08,0.74),(2.16,0.63),(2.25,0.52),(2.33,0.42),(2.39,0.3),(2.44,0.2),(2.49,0.09),(2.53,-0.05),(2.57,-0.18),(2.59,-0.28),(2.62,-0.45),(2.65,-0.65),(2.67,-0.85),(2.68,-1.07),(2.66,-1.25),(2.62,-1.39),(2.56,-1.55),(2.49,-1.72),(2.41,-1.88),(2.33,-2.04),
    (0.45,1.42),(0.55,1.35),(0.65,1.3),(0.72,1.3),(0.97,1.39),(1.08,1.32),(1.2,1.28),(1.32,1.22),(1.44,1.16),(1.56,1.1),(1.68,1.05),(1.8,0.99),(1.92,0.93),(2.04,0.87),(2.16,0.78),(2.27,0.7),(2.38,0.62),(2.49,0.5),(2.59,0.37),(2.66,0.25),(2.72,0.12),(2.78,0.0),(2.82,-0.12),(2.86,-0.25),(2.9,-0.4),(2.92,-0.55),
    (1.1,1.42),(1.25,1.4),(1.4,1.38),(1.5,1.35),(1.6,1.39),(1.75,1.33),(1.9,1.28),(2.08,1.25),(2.24,1.18),(2.4,1.11),(2.52,1.0),(2.62,0.9),(2.71,0.79),(2.8,0.65),(2.88,0.52),(2.94,0.42),(3.0,0.3),(3.06,0.18),(3.1,0.09),(3.16,-0.08),(3.22,-0.28),(3.24,-0.42),
    (2.4,1.44),(2.55,1.32),(2.7,1.25),(2.87,1.16),(2.97,1.02),(3.08,0.88),(3.19,0.74),(3.3,0.62),(3.38,0.52),(3.48,0.42),(3.58,0.25),(3.67,0.09),(3.72,-0.08),(3.76,-0.23),(3.78,-0.46),(3.73,-0.7),
    (2.52,0.75),(2.62,0.6),(2.72,0.45),(2.8,0.3),(2.88,0.14),(2.95,0.0),(3.0,-0.12),(3.05,-0.28),(3.1,-0.4),(3.2,0.4),(3.28,0.25),(3.35,0.1),(3.42,-0.05),(3.5,0.25),(3.58,0.05),(3.62,-0.15),(3.65,-0.35),(3.6,-0.55),
    (3.1,1.0),(3.05,0.75),(3.12,0.58),(3.2,0.45),(2.85,0.9),(2.95,0.72),(2.65,-0.84),(2.71,-1.3),(2.72,-1.5),(2.71,-1.76),(2.66,-2.0),(2.62,-2.18),
    (2.88,-0.65),(2.93,-0.85),(2.95,-1.05),(2.97,-1.3),(2.94,-1.55),(2.88,-1.8),(2.8,-2.0),(3.18,-1.05),(3.14,-1.32),(3.27,-1.55),(3.25,-1.76),(3.27,-1.92),(3.29,-2.09),
    (3.57,-1.1),(3.58,-1.45),(3.6,-1.76),(3.63,-2.09),(3.68,-1.2),(3.68,-1.5),(3.62,-1.95),(3.92,-1.4),(3.88,-1.7),(3.86,-2.09),(4.22,-1.3),(4.2,-1.75),(4.14,-2.04),(4.1,-1.6),(4.02,-1.95),(4.44,-1.4),(4.37,-1.67),(4.3,-1.85),(4.24,-2.04),(4.14,-2.2),
    (2.2,-2.85),(2.3,-2.7),(2.4,-2.52),(2.5,-2.36),(2.6,-2.18),(2.7,-2.3),(2.62,-2.45),(2.55,-2.6),(2.48,-2.72),(2.4,-2.88),
]
# thick blue bands, read row by row: (longitudinal, [lateral...])
blue_rows_right = [
    (1.53,[0.25,0.35,0.45,0.55,0.65,0.88,0.98,1.08,1.18,1.6,1.7,1.8,1.9,2.0,2.1]),
    (1.42,[0.25,0.35,0.45,0.55,0.65,0.88,0.98,1.08,1.18,1.28,1.38,1.58,1.68,1.78,1.88,1.98,2.08,2.18,2.28,2.38,2.48,2.58,2.68,2.78]),
    (1.3,[0.28,0.38,0.48,0.84,0.94,1.04,1.14,1.24,1.34,1.44,1.54,1.64,1.72,1.92,2.02,2.12,2.22,2.32,2.42,2.52,2.62,2.72,2.82,2.92,3.02]),
    (1.16,[0.28,0.38,0.48,0.62,0.72,0.82,0.92,1.02,1.12,1.22,1.32,1.42,1.52,1.62,1.72,1.82,1.92,2.02,2.1,2.2,2.3,2.4,2.5,2.6,2.7,2.8,2.9,3.0,3.08]),
    (1.02,[0.3,0.4,0.5,0.6,0.7,0.78,0.9,1.0,1.1,1.2,1.3,1.4,1.5,1.6,1.7,1.8,1.9,2.02,2.42,2.52,2.62,2.72,2.82,2.92,3.02,3.12,3.22,3.32,3.42,3.62,3.72,3.82,3.92,4.02]),
    (0.86,[1.18,1.28,1.38,1.48,1.58,1.68,1.78,1.88,1.97,2.42,2.52,2.62,2.72,2.82,2.92,3.02,3.12,3.22,3.3,3.64,3.72]),
    (0.7,[1.24,1.34,1.85,1.95,2.05,2.15,2.25,2.31,2.54,2.64,2.74,2.84,2.94,3.04,3.14,3.24,3.33]),
    (0.56,[1.94,2.04,2.14,2.24,2.34,2.44,2.64,2.74,2.84,2.94,3.04,3.14,3.24,3.34,3.42]),
    (0.4,[2.16,2.26,2.36,2.46,2.56,2.67,2.77,2.87,2.97,3.07,3.17,3.27,3.37,3.47,3.57]),
    (0.23,[2.39,2.49,2.59,2.69,2.79,2.89,2.99,3.09,3.19,3.29,3.39,3.49,3.59,3.68]),
    (0.07,[2.48,2.58,2.68,2.78,2.86,2.96,3.06,3.16,3.26,3.36,3.46,3.56,3.66,3.74]),
    (-0.1,[2.54,2.64,2.74,2.84,3.18,3.3,3.52,3.62,3.72]),
    (-0.28,[2.57,2.67,2.77,2.87,3.15,3.25,3.58,3.68,3.76]),
    (-0.42,[2.57,2.67,3.2,3.27,3.6,3.7]),
    (-0.6,[2.61,2.71,2.81,3.62,3.7]),
    (-0.75,[2.62,2.72,2.82,2.92,3.02,3.12,3.2,3.5,3.6,3.7]),
    (-0.9,[2.62,2.72,2.82,2.9,3.02,3.12,3.22,3.46,3.56,3.66,3.72,3.92,4.0]),
    (-1.07,[2.64,2.74,2.84,2.9,3.02,3.12,3.22,3.32,3.53,3.63,3.73,3.91,4.0,4.16,4.26,4.32]),
    (-1.22,[2.67,2.77,2.87,2.95,3.05,3.15,3.25,3.35,3.42,3.53,3.63,3.68,3.85,3.95,4.1,4.2,4.28]),
    (-1.38,[2.66,2.76,2.86,2.96,3.05,3.15,3.25,3.35,3.53,3.63,3.85,3.95,4.08,4.18,4.28]),
    (-1.53,[2.58,2.68,2.78,2.88,2.95,3.12,3.22,3.32,3.53,3.63,3.68,3.85,3.95,4.07,4.17]),
    (-1.68,[2.5,2.6,2.7,2.8,2.88,3.16,3.26,3.33,3.56,3.66,3.76,3.85,3.95,4.05,4.15,4.32]),
    (-1.84,[2.42,2.52,2.62,2.72,2.82,3.18,3.28,3.36,3.58,3.68,3.78,3.86,3.96,4.02,4.12,4.28,4.36]),
    (-2.0,[2.36,2.46,2.56,2.66,2.76,2.84,3.24,3.34,3.4,3.6,3.7,3.8,3.88,3.98,4.06,4.16,4.26]),
]
blue_rows_left = [
    (1.6,[-1.2,-1.1,-1.0,-0.9,-0.62,-0.52,-0.42,-0.32]),
    (1.49,[-2.0,-1.9,-1.8,-1.7,-1.6,-1.5,-1.4,-1.3,-1.2,-1.1,-1.0,-0.9,-0.8,-0.7,-0.6,-0.5,-0.4,-0.3]),
    (1.35,[-2.05,-1.95,-1.85,-1.75,-1.65,-1.55,-1.45,-1.35,-1.25,-1.15,-1.05,-0.95,-0.85,-0.75,-0.65,-0.55,-0.45,-0.35]),
    (1.21,[-2.35,-2.25,-2.15,-2.05,-1.95,-1.85,-1.75,-1.65,-1.55,-1.45,-1.35,-1.25]),
    (1.05,[-3.2,-3.1,-3.0,-2.9,-2.8,-2.7,-2.38,-2.28,-2.18,-2.08,-1.98,-1.88,-1.82,-0.78,-0.68,-0.58,-0.48]),
    (0.88,[-3.2,-3.1,-3.0,-2.9,-2.8,-2.72,-2.4,-2.3,-2.2,-2.1,-2.0,-1.9,-1.86]),
    (0.7,[-3.3,-3.2,-3.1,-3.05,-2.4,-2.3,-2.2,-2.1,-2.0,-0.78,-0.68,-0.58,-0.48,-0.38]),
    (0.56,[-3.54,-3.44,-3.34,-3.26,-2.52,-2.42,-2.32,-2.22,-2.12,-4.08,-3.98,-3.88,-3.8,-0.75,-0.6,-0.45,-0.36]),
    (0.42,[-3.67,-3.57,-3.47,-3.14,-3.04,-2.94,-2.84,-2.62,-2.52,-2.42,-2.3]),
    (0.23,[-3.86,-3.76,-3.66,-2.72,-2.62,-2.52,-2.42]),
    (0.05,[-4.02,-3.92,-3.82,-3.0,-2.9,-2.72,-2.62,-2.5]),
    (-0.14,[-3.93,-3.86,-3.0,-2.9,-2.72,-2.62,-2.52]),
    (-0.3,[-3.98,-3.9,-3.02,-2.92]),
    (-0.45,[-4.02,-3.95,-2.68,-2.58]),
    (-0.6,[-4.05,-3.98,-3.02,-2.92,-2.82,-2.72,-2.6,-2.52]),
    (-0.76,[-3.0,-2.9,-2.8,-2.7,-2.62]),
    (-0.92,[-3.3,-3.2,-3.1,-3.0,-2.9,-2.8]),
    (-1.08,[-3.28,-3.18,-3.08,-2.98,-2.88]),
    (-1.25,[-3.22,-3.12,-3.02,-2.63]),
    (-1.4,[-3.15,-3.07]),
]
x_ticks = [-7.5,-7,-6.5,-6,-5.5,-5,-4.5,-4,-3.5,-3,-2.5,-2,-1.5,-1,-0.5,0,0.5,1,1.5,2,2.5,3,3.5,4,4.5,5,5.5,6,6.5]
x_labels = ["-7,5","-7","-6,5","-6","-5,5","-5","-4,5","-4","-3,5","-3","-2,5","-2","-1,5","-1","-0,5","0","0,5","1","1,5","2","2,5","3","3,5","4","4,5","5","5,5","6","6,5"]
y_ticks = [2,1,0,-1,-2,-3,-4,-5,-6,-7,-8,-9,-10]
y_labels = ["2","1","0","-1","-2","-3","-4","-5","-6","-7","-8","-9","-10"]

rows = []
for name, pts in [("red", red_pts + red_more), ("yellow", yellow_pts + yellow_more),
                  ("green", green_pts + green_more), ("blue", blue_pts + blue_more + blue_arcs)]:
    for p in pts:
        rows.append((name, p[0], p[1]))
for y, xs in blue_rows_right + blue_rows_left:
    for x in xs:
        rows.append(("blue", x, y))
df = pd.DataFrame(rows, columns=["run", "lat", "lon"])

sns.set_theme(style="white")
plt.rcParams['font.family'] = ['Liberation Sans', 'DejaVu Sans']

fig = plt.figure(figsize=(15.79, 9.30), dpi=100)
ax = fig.add_axes([77/1579, 52/930, 1502/1579, 862/930])

palette = {"red": "#FF0000", "yellow": "#FFC000", "green": "#00B050", "blue": "#558ED5"}
sns.scatterplot(data=df, x="lat", y="lon", hue="run", palette=palette, s=120, linewidth=0,
                legend=False, ax=ax, zorder=3)

ax.set_xlim(-7.5, 6.805)
ax.set_ylim(-10, 2)
ax.set_xticks(x_ticks)
ax.set_xticklabels(x_labels)
ax.set_yticks(y_ticks)
ax.set_yticklabels(y_labels)
ax.grid(True, color="#D9D9D9", lw=1.0)
ax.set_axisbelow(True)
for s in ["top", "right"]:
    ax.spines[s].set_visible(False)
ax.spines["left"].set_color("#555555")
ax.spines["left"].set_linewidth(1.3)
ax.spines["bottom"].set_color("#333333")
ax.spines["bottom"].set_linewidth(1.0)
ax.tick_params(axis="x", direction="in", length=7, width=1, color="#222222", labelsize=11.5, labelcolor="#333333", pad=5, bottom=True)
ax.tick_params(axis="y", direction="inout", length=10, width=1, color="#222222", labelsize=11.5, labelcolor="#333333", pad=6, left=True)

ax.set_xlabel("")
ax.set_ylabel("")
fig.text(839/1579, 1-919/930, "Lateral Acceleration [G]", ha="center", va="center", fontsize=11.7, fontweight="bold", color="#222222")
fig.text(30/1579, 1-433/930, "Longitudinal Acceleration [G]", ha="center", va="center", rotation=90, fontsize=12.7, fontweight="bold", color="#222222")

ax.add_patch(Ellipse((-6.25, -0.24), 3.75, 2.07, fill=False, edgecolor="#FF0000", lw=3.8, clip_on=False, zorder=5))

fig.savefig("out.png", dpi=100)
